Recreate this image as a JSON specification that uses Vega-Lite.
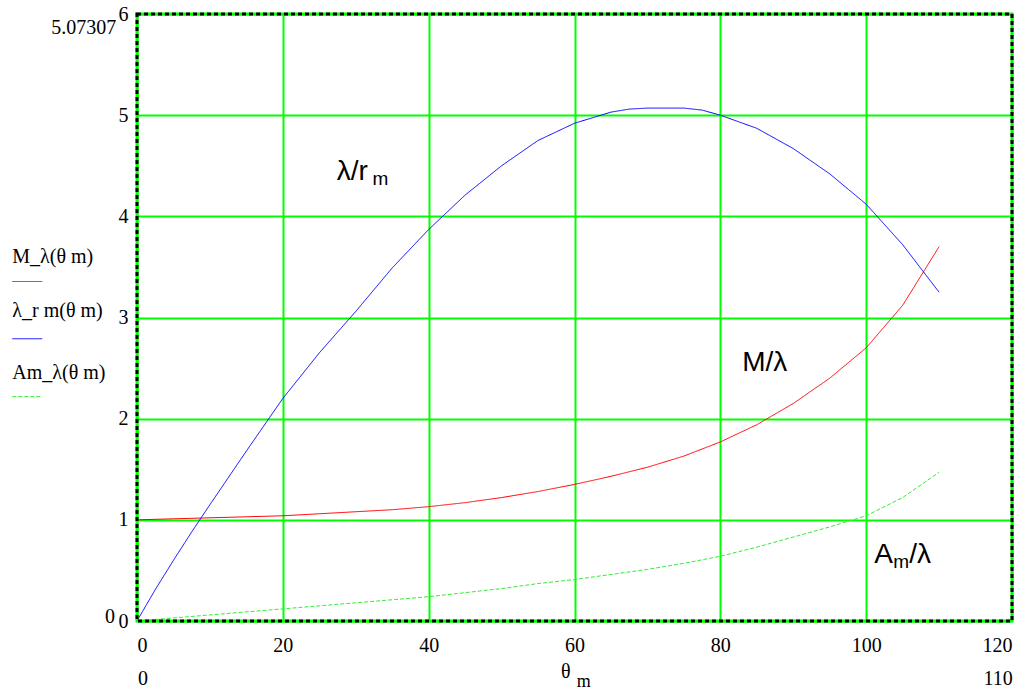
{
  "$schema": "https://vega.github.io/schema/vega-lite/v6.json",
  "width": 875,
  "height": 607,
  "autosize": {"type": "none"},
  "padding": {"left": 137, "top": 14, "right": 9, "bottom": 72},
  "background": "white",
  "config": {"view": {"stroke": null}},
  "datasets": {
    "curves": [
      {"theta": 0, "series": "M", "v": 1.0}, {"theta": 5, "series": "M", "v": 1.01}, {"theta": 10, "series": "M", "v": 1.02}, {"theta": 15, "series": "M", "v": 1.03}, {"theta": 20, "series": "M", "v": 1.04}, {"theta": 25, "series": "M", "v": 1.06}, {"theta": 30, "series": "M", "v": 1.08}, {"theta": 35, "series": "M", "v": 1.1}, {"theta": 40, "series": "M", "v": 1.13}, {"theta": 45, "series": "M", "v": 1.17}, {"theta": 50, "series": "M", "v": 1.22}, {"theta": 55, "series": "M", "v": 1.28}, {"theta": 60, "series": "M", "v": 1.35}, {"theta": 65, "series": "M", "v": 1.43}, {"theta": 70, "series": "M", "v": 1.52}, {"theta": 75, "series": "M", "v": 1.63}, {"theta": 80, "series": "M", "v": 1.77}, {"theta": 85, "series": "M", "v": 1.94}, {"theta": 90, "series": "M", "v": 2.15}, {"theta": 95, "series": "M", "v": 2.4}, {"theta": 100, "series": "M", "v": 2.7}, {"theta": 105, "series": "M", "v": 3.12}, {"theta": 110, "series": "M", "v": 3.7},
      {"theta": 0, "series": "L", "v": 0.0}, {"theta": 2.5, "series": "L", "v": 0.31}, {"theta": 5, "series": "L", "v": 0.6}, {"theta": 7.5, "series": "L", "v": 0.88}, {"theta": 10, "series": "L", "v": 1.15}, {"theta": 15, "series": "L", "v": 1.68}, {"theta": 20, "series": "L", "v": 2.2}, {"theta": 25, "series": "L", "v": 2.65}, {"theta": 30, "series": "L", "v": 3.06}, {"theta": 35, "series": "L", "v": 3.49}, {"theta": 40, "series": "L", "v": 3.87}, {"theta": 45, "series": "L", "v": 4.21}, {"theta": 50, "series": "L", "v": 4.5}, {"theta": 55, "series": "L", "v": 4.75}, {"theta": 60, "series": "L", "v": 4.92}, {"theta": 65, "series": "L", "v": 5.03}, {"theta": 67.5, "series": "L", "v": 5.06}, {"theta": 70, "series": "L", "v": 5.07}, {"theta": 75, "series": "L", "v": 5.07}, {"theta": 77.5, "series": "L", "v": 5.05}, {"theta": 80, "series": "L", "v": 5.0}, {"theta": 85, "series": "L", "v": 4.87}, {"theta": 90, "series": "L", "v": 4.67}, {"theta": 95, "series": "L", "v": 4.42}, {"theta": 100, "series": "L", "v": 4.12}, {"theta": 105, "series": "L", "v": 3.72}, {"theta": 110, "series": "L", "v": 3.25},
      {"theta": 0, "series": "A", "v": 0.0}, {"theta": 5, "series": "A", "v": 0.03}, {"theta": 10, "series": "A", "v": 0.06}, {"theta": 15, "series": "A", "v": 0.09}, {"theta": 20, "series": "A", "v": 0.12}, {"theta": 25, "series": "A", "v": 0.15}, {"theta": 30, "series": "A", "v": 0.18}, {"theta": 35, "series": "A", "v": 0.21}, {"theta": 40, "series": "A", "v": 0.24}, {"theta": 45, "series": "A", "v": 0.28}, {"theta": 50, "series": "A", "v": 0.32}, {"theta": 55, "series": "A", "v": 0.37}, {"theta": 60, "series": "A", "v": 0.41}, {"theta": 65, "series": "A", "v": 0.46}, {"theta": 70, "series": "A", "v": 0.51}, {"theta": 75, "series": "A", "v": 0.57}, {"theta": 80, "series": "A", "v": 0.64}, {"theta": 85, "series": "A", "v": 0.73}, {"theta": 90, "series": "A", "v": 0.83}, {"theta": 95, "series": "A", "v": 0.93}, {"theta": 100, "series": "A", "v": 1.04}, {"theta": 105, "series": "A", "v": 1.22}, {"theta": 110, "series": "A", "v": 1.47}
    ],
    "legendText": [
      {"x": -17.1, "y": 3.6, "label": "M_λ(θ m)"},
      {"x": -17.1, "y": 3.06, "label": "λ_r m(θ m)"},
      {"x": -17.1, "y": 2.455, "label": "Am_λ(θ m)"}
    ],
    "legendLines": [
      {"x": -17.1, "x2": -13.0, "y": 3.356, "series": "M"},
      {"x": -17.1, "x2": -13.0, "y": 2.79, "series": "L"},
      {"x": -17.1, "x2": -13.0, "y": 2.218, "series": "A"}
    ],
    "serifNotes": [
      {"x": -7.3, "y": 5.865, "label": "5.07307"},
      {"x": -3.7, "y": 0.04, "label": "0"},
      {"x": 0.82, "y": -0.574, "label": "0"},
      {"x": 118.1, "y": -0.574, "label": "110"},
      {"x": 58.8, "y": -0.5, "label": "θ"}
    ],
    "serifSub": [
      {"x": 60.3, "y": -0.6, "label": "m"}
    ],
    "bigText": [
      {"x": 27.4, "y": 4.44, "label": "λ/r"},
      {"x": 83.0, "y": 2.55, "label": "M/λ"},
      {"x": 101.1, "y": 0.653, "label": "A"},
      {"x": 105.9, "y": 0.653, "label": "/λ"}
    ],
    "bigSub": [
      {"x": 32.3, "y": 4.37, "label": "m"},
      {"x": 103.7, "y": 0.58, "label": "m"}
    ]
  },
  "layer": [
    {
      "data": {"name": "curves"},
      "mark": {"type": "line", "strokeWidth": 1, "interpolate": "linear"},
      "encoding": {
        "x": {
          "field": "theta", "type": "quantitative",
          "scale": {"domain": [0, 120], "nice": false, "zero": false},
          "axis": {
            "values": [0, 20, 40, 60, 80, 100, 120], "title": null, "domain": false, "ticks": false,
            "grid": true, "gridColor": "#00ff00", "gridWidth": 2, "gridOpacity": 1,
            "labelFont": "Liberation Serif", "labelFontSize": 20, "labelColor": "black",
            "labelPadding": 14, "labelFlush": true, "format": "d"
          }
        },
        "y": {
          "field": "v", "type": "quantitative",
          "scale": {"domain": [0, 6], "nice": false, "zero": false},
          "axis": {
            "values": [0, 1, 2, 3, 4, 5, 6], "title": null, "domain": false, "ticks": false,
            "grid": true, "gridColor": "#00ff00", "gridWidth": 2, "gridOpacity": 1,
            "labelFont": "Liberation Serif", "labelFontSize": 20, "labelColor": "black",
            "labelPadding": 9, "format": "d"
          }
        },
        "color": {
          "field": "series", "type": "nominal",
          "scale": {"domain": ["M", "L", "A"], "range": ["#ff0000", "#0000ff", "#33ee33"]},
          "legend": null
        },
        "strokeDash": {
          "field": "series", "type": "nominal",
          "scale": {"domain": ["M", "L", "A"], "range": [[1, 0], [1, 0], [4, 2]]},
          "legend": null
        },
        "detail": {"field": "series"}
      }
    },
    {
      "data": {"values": [{}]},
      "mark": {"type": "rect", "filled": false, "stroke": "#00ff00", "strokeWidth": 3},
      "encoding": {
        "x": {"datum": 0, "type": "quantitative"},
        "x2": {"datum": 120},
        "y": {"datum": 0, "type": "quantitative"},
        "y2": {"datum": 6}
      }
    },
    {
      "data": {"values": [{}]},
      "mark": {"type": "rect", "filled": false, "stroke": "black", "strokeWidth": 3, "strokeDash": [4, 3]},
      "encoding": {
        "x": {"datum": 0, "type": "quantitative"},
        "x2": {"datum": 120},
        "y": {"datum": 0, "type": "quantitative"},
        "y2": {"datum": 6}
      }
    },
    {
      "data": {"name": "legendText"},
      "mark": {"type": "text", "font": "Liberation Serif", "fontSize": 20, "align": "left", "baseline": "middle", "color": "black"},
      "encoding": {
        "x": {"field": "x", "type": "quantitative"},
        "y": {"field": "y", "type": "quantitative"},
        "text": {"field": "label"}
      }
    },
    {
      "data": {"name": "legendLines"},
      "mark": {"type": "rule", "strokeWidth": 1},
      "encoding": {
        "x": {"field": "x", "type": "quantitative"},
        "x2": {"field": "x2"},
        "y": {"field": "y", "type": "quantitative"},
        "color": {"field": "series", "type": "nominal", "legend": null},
        "strokeDash": {"field": "series", "type": "nominal", "legend": null}
      }
    },
    {
      "data": {"name": "serifNotes"},
      "mark": {"type": "text", "font": "Liberation Serif", "fontSize": 20, "align": "center", "baseline": "middle", "color": "black"},
      "encoding": {
        "x": {"field": "x", "type": "quantitative"},
        "y": {"field": "y", "type": "quantitative"},
        "text": {"field": "label"}
      }
    },
    {
      "data": {"name": "serifSub"},
      "mark": {"type": "text", "font": "Liberation Serif", "fontSize": 18, "align": "left", "baseline": "middle", "color": "black"},
      "encoding": {
        "x": {"field": "x", "type": "quantitative"},
        "y": {"field": "y", "type": "quantitative"},
        "text": {"field": "label"}
      }
    },
    {
      "data": {"name": "bigText"},
      "mark": {"type": "text", "font": "Liberation Sans", "fontSize": 28, "align": "left", "baseline": "middle", "color": "black"},
      "encoding": {
        "x": {"field": "x", "type": "quantitative"},
        "y": {"field": "y", "type": "quantitative"},
        "text": {"field": "label"}
      }
    },
    {
      "data": {"name": "bigSub"},
      "mark": {"type": "text", "font": "Liberation Sans", "fontSize": 19, "align": "left", "baseline": "middle", "color": "black"},
      "encoding": {
        "x": {"field": "x", "type": "quantitative"},
        "y": {"field": "y", "type": "quantitative"},
        "text": {"field": "label"}
      }
    }
  ]
}
